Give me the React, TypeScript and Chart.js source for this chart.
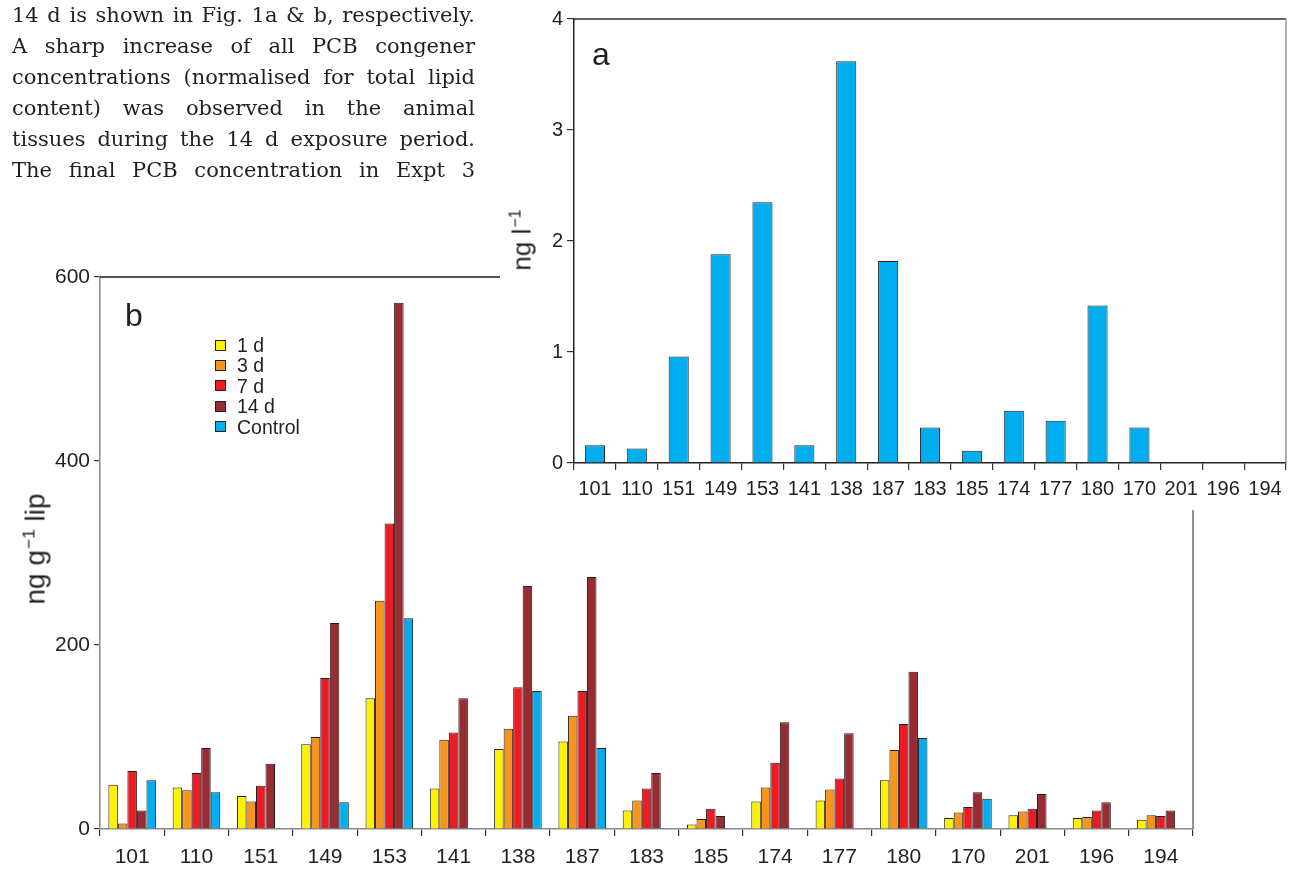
import React, { useEffect, useRef } from "react";
import { Chart, registerables } from "chart.js";

Chart.register(...registerables);

// ---------- data ----------
const congeners = ["101", "110", "151", "149", "153", "141", "138", "187", "183", "185", "174", "177", "180", "170", "201", "196", "194"];

// Fig. 1a : water concentration, ng l-1
const waterConc = [0.16, 0.13, 0.96, 1.88, 2.35, 0.16, 3.62, 1.82, 0.32, 0.11, 0.47, 0.38, 1.42, 0.32, null, null, null];

// Fig. 1b : tissue concentration, ng g-1 lip
const day1 = [48, 45, 36, 92, 142, 44, 87, 95, 20, 5, 30, 31, 53, 12, 15, 12, 10];
const day3 = [6, 42, 30, 100, 248, 97, 109, 123, 31, 11, 45, 43, 86, 18, 19, 13, 15];
const day7 = [63, 61, 47, 164, 332, 105, 154, 150, 44, 22, 72, 55, 114, 24, 22, 20, 14];
const day14 = [20, 88, 71, 224, 572, 142, 264, 274, 61, 14, 116, 104, 171, 40, 38, 29, 20];
const control = [53, 40, null, 29, 229, null, 150, 88, null, null, null, null, 99, 33, null, null, null];

const seriesLabels = ["1 d", "3 d", "7 d", "14 d", "Control"];
const yTicksA = [0, 1, 2, 3, 4];
const yTicksB = [0, 200, 400, 600];

const textLines = [
  "14 d is shown in Fig. 1a & b, respectively.",
  "A sharp increase of all PCB congener",
  "concentrations (normalised for total lipid",
  "content) was observed in the animal",
  "tissues during the 14 d exposure period.",
  "The final PCB concentration in Expt 3",
];

// ---------- styles ----------
const seriesColors = ["#FFF200", "#F7941D", "#ED1C24", "#992B33", "#00AEEF"];
const SANS = "'Liberation Sans', Arial, Helvetica, sans-serif";
const INK = "#231F20";

const frame = (topColor: string, rightColor: string) => ({
  id: "frame",
  afterDraw(chart: any) {
    const { ctx, chartArea: a } = chart;
    ctx.save();
    ctx.lineWidth = 1.3;
    ctx.strokeStyle = topColor;
    ctx.beginPath();
    ctx.moveTo(a.left, a.top);
    ctx.lineTo(a.right, a.top);
    ctx.stroke();
    ctx.strokeStyle = rightColor;
    ctx.beginPath();
    ctx.moveTo(a.right, a.top);
    ctx.lineTo(a.right, a.bottom);
    ctx.stroke();
    ctx.restore();
  },
});

function ChartB() {
  const ref = useRef<HTMLCanvasElement>(null);
  useEffect(() => {
    const all = [day1, day3, day7, day14, control];
    const chart = new Chart(ref.current as HTMLCanvasElement, {
      type: "bar",
      data: {
        labels: congeners,
        datasets: all.map((d, i) => ({
          label: seriesLabels[i],
          data: d as any,
          backgroundColor: seriesColors[i],
          borderColor: "#231F20",
          borderWidth: 1,
          categoryPercentage: 0.74,
          barPercentage: 1.0,
        })),
      },
      options: {
        animation: false,
        responsive: false,
        events: [],
        layout: { padding: { top: 277, right: 100, left: 0, bottom: 0 } },
        plugins: { legend: { display: false }, tooltip: { enabled: false }, title: { display: false } },
        scales: {
          x: {
            offset: true,
            grid: { display: true, offset: true, drawOnChartArea: false, drawTicks: true, tickLength: 7, color: "#333", lineWidth: 1.2 },
            border: { display: true, color: "#888", width: 1.5 },
            ticks: { color: INK, font: { family: SANS, size: 21 }, padding: 9, maxRotation: 0, autoSkip: false },
            afterFit: (s: any) => { s.height = 40; },
          },
          y: {
            min: 0,
            max: 600,
            afterBuildTicks: (s: any) => { s.ticks = yTicksB.map((v) => ({ value: v })); },
            grid: { drawOnChartArea: false, drawTicks: true, tickLength: 6, color: "#333", lineWidth: 1.2 },
            border: { display: true, color: "#888", width: 1.5 },
            ticks: { color: INK, font: { family: SANS, size: 21 }, padding: 4 },
            afterFit: (s: any) => { s.width = 100; },
          },
        },
      },
      plugins: [frame("#1a1a1a", "#555")],
    });
    return () => chart.destroy();
  }, []);
  return (
    <canvas
      ref={ref}
      width={1293}
      height={869}
      style={{ position: "absolute", left: 0, top: 0, width: 1293, height: 869, zIndex: 1 }}
    />
  );
}

function ChartA() {
  const ref = useRef<HTMLCanvasElement>(null);
  useEffect(() => {
    const chart = new Chart(ref.current as HTMLCanvasElement, {
      type: "bar",
      data: {
        labels: congeners,
        datasets: [
          {
            label: "ng l-1",
            data: waterConc as any,
            backgroundColor: "#00AEEF",
            borderColor: "#231F20",
            borderWidth: 1,
            categoryPercentage: 1.0,
            barPercentage: 0.48,
          },
        ],
      },
      options: {
        animation: false,
        responsive: false,
        events: [],
        layout: { padding: { top: 19, right: 7, left: 0, bottom: 0 } },
        plugins: { legend: { display: false }, tooltip: { enabled: false }, title: { display: false } },
        scales: {
          x: {
            offset: true,
            grid: { display: true, offset: true, drawOnChartArea: false, drawTicks: true, tickLength: 7, color: "#333", lineWidth: 1.2 },
            border: { display: true, color: "#222", width: 1.5 },
            ticks: { color: INK, font: { family: SANS, size: 20 }, padding: 7, maxRotation: 0, autoSkip: false },
            afterFit: (s: any) => { s.height = 47; },
          },
          y: {
            min: 0,
            max: 4,
            afterBuildTicks: (s: any) => { s.ticks = yTicksA.map((v) => ({ value: v })); },
            grid: { drawOnChartArea: false, drawTicks: true, tickLength: 7, color: "#333", lineWidth: 1.2 },
            border: { display: true, color: "#222", width: 1.5 },
            ticks: { color: INK, font: { family: SANS, size: 20 }, padding: 4 },
            afterFit: (s: any) => { s.width = 74; },
          },
        },
      },
      plugins: [frame("#333", "#888")],
    });
    return () => chart.destroy();
  }, []);
  return (
    <canvas
      ref={ref}
      width={793}
      height={510}
      style={{ position: "absolute", left: 500, top: 0, width: 793, height: 510, background: "#fff", zIndex: 2 }}
    />
  );
}

const sup: React.CSSProperties = { fontSize: "0.62em", position: "relative", top: "-0.6em", marginLeft: 1 };

export default function App() {
  return (
    <div
      style={{
        position: "fixed",
        left: 0,
        top: 0,
        width: 1293,
        height: 869,
        background: "#fff",
        overflow: "hidden",
      }}
    >
      <ChartB />
      <ChartA />

      {/* paragraph text */}
      {textLines.map((t, i) => (
        <div
          key={i}
          style={{
            position: "absolute",
            left: 12,
            top: i * 30.9,
            width: 463,
            height: 30.9,
            lineHeight: "30.9px",
            fontFamily: "'DejaVu Serif', serif",
            fontSize: 21,
            color: INK,
            textAlign: "justify",
            textAlignLast: "justify",
            zIndex: 3,
          }}
        >
          {t}
        </div>
      ))}

      {/* panel labels */}
      <div style={{ position: "absolute", left: 592, top: 38, fontFamily: SANS, fontSize: 32, lineHeight: "32px", color: INK, zIndex: 3 }}>a</div>
      <div style={{ position: "absolute", left: 125, top: 299, fontFamily: SANS, fontSize: 32, lineHeight: "32px", color: INK, zIndex: 3 }}>b</div>

      {/* axis titles */}
      <div
        style={{
          position: "absolute",
          left: 37,
          top: 549,
          transform: "translate(-50%, -50%) rotate(-90deg)",
          whiteSpace: "nowrap",
          fontFamily: SANS,
          fontSize: 28,
          lineHeight: "28px",
          color: INK,
          zIndex: 3,
        }}
      >
        ng g<span style={sup}>−1</span> lip
      </div>
      <div
        style={{
          position: "absolute",
          left: 523,
          top: 240,
          transform: "translate(-50%, -50%) rotate(-90deg)",
          whiteSpace: "nowrap",
          fontFamily: SANS,
          fontSize: 26,
          lineHeight: "26px",
          color: INK,
          zIndex: 3,
        }}
      >
        ng l<span style={sup}>−1</span>
      </div>

      {/* legend of panel b */}
      {seriesLabels.map((lab, i) => (
        <div
          key={lab}
          style={{
            position: "absolute",
            left: 215,
            top: 345 + i * 20.4 - 10,
            height: 20,
            display: "flex",
            alignItems: "center",
            zIndex: 3,
          }}
        >
          <span
            style={{
              display: "inline-block",
              width: 11,
              height: 11,
              boxSizing: "border-box",
              border: "1px solid #231F20",
              background: seriesColors[i],
            }}
          />
          <span style={{ marginLeft: 11, fontFamily: SANS, fontSize: 19.5, lineHeight: "20px", color: INK }}>{lab}</span>
        </div>
      ))}
    </div>
  );
}
